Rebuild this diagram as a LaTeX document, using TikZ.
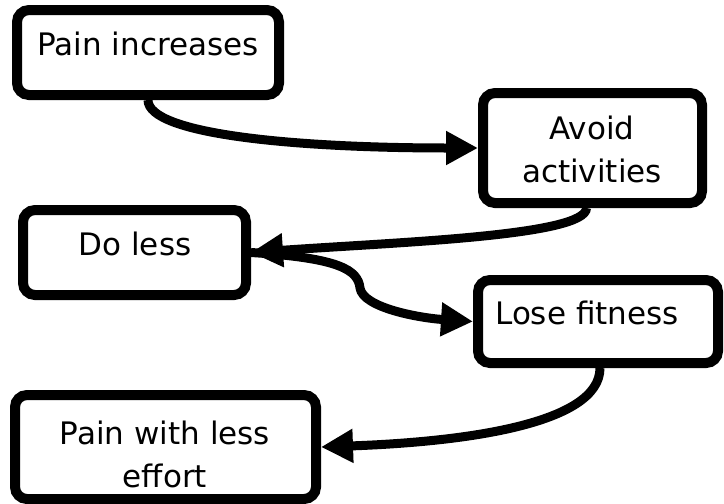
\documentclass[tikz,border=0pt]{standalone}
\usepackage{fontspec}
\setmainfont{DejaVu Sans}
\usetikzlibrary{arrows.meta}
\begin{document}
\begin{tikzpicture}[x=1pt,y=-1pt,
  box/.style={draw, line width=10pt, rounded corners=12pt, inner sep=0pt, fill=white},
  lbl/.style={font=\fontsize{31}{43}\selectfont, align=center, inner sep=0pt, anchor=base},
  conn/.style={line width=9pt, -{Triangle[length=32pt,width=32pt]}}]
\useasboundingbox[fill=white] (0,0) rectangle (724,504);
% boxes
\node[box, minimum width=262pt, minimum height=85pt]  (b1) at (148,52.5) {};
\node[box, minimum width=219pt, minimum height=110pt] (b2) at (592.5,148) {};
\node[box, minimum width=223pt, minimum height=85pt]  (b3) at (134.5,252.5) {};
\node[box, minimum width=240pt, minimum height=83pt]  (b4) at (598,321.5) {};
\node[box, minimum width=301pt, minimum height=104pt] (b5) at (165.5,447) {};
% labels
\node[lbl] (t1) at (148,55) {Pain increases};
\node[lbl] (t2) at (592,182) {Avoid\\activities};
\node[lbl] (t3) at (135,255) {Do less};
\node[lbl] (t4) at (587,324) {Lose fitness};
\node[lbl] (t5) at (165,487) {Pain with less\\effort};
% connectors
\draw[conn] (b1.south) .. controls (148,135) and (300,148) .. (b2.west);
\draw[conn] ([xshift=-6pt]b2.south) .. controls (586,236) and (400,242) .. (b3.east);
\draw[conn] (b3.east) .. controls (340,258) and (358,270) .. (360,288)
  .. controls (363,308) and (420,318) .. (b4.west);
\draw[conn] ([xshift=2pt]b4.south) .. controls (600,425) and (460,442) .. (b5.east);
\end{tikzpicture}
\end{document}
